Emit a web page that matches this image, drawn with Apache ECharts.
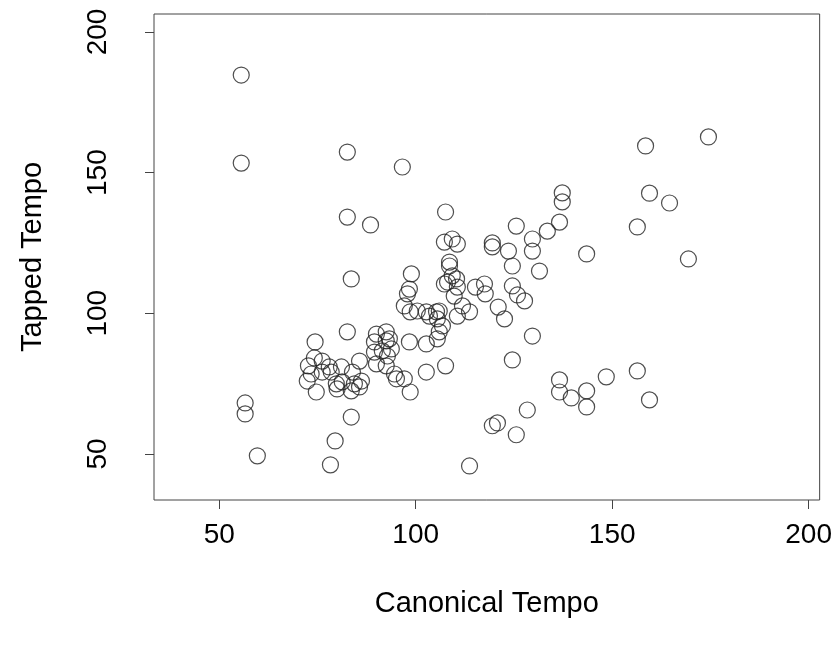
<!DOCTYPE html>
<html>
<head>
<meta charset="utf-8">
<script src="https://cdn.jsdelivr.net/npm/echarts@6/dist/echarts.min.js"></script>
<style>
html,body{margin:0;padding:0;background:#fff;}
#chart{width:835px;height:647px;}
</style>
</head>
<body>
<div id="chart"></div>
<script>
// Canonical tempo (x) and tapped tempo (y)
const canonical = [
  55.6,55.6,56.6,56.6,59.7,
  82.6,96.6,82.6,88.5,83.6,107.6,
  78.3,79.5,83.6,113.7,
  74.4,82.6,72.7,74.2,76.2,78.0,81.1,73.4,76.2,78.5,83.9,72.4,74.7,79.8,80.0,81.3,84.4,83.6,85.7,86.2,85.7,
  90.0,92.5,93.3,89.5,92.5,93.8,91.5,89.5,92.8,90.0,92.5,94.6,95.1,97.1,98.6,98.4,102.7,105.5,102.7,107.6,
  98.9,98.4,97.9,97.1,98.6,100.4,102.7,103.5,105.3,106.0,105.5,106.8,106.0,110.6,113.7,111.9,107.3,108.1,110.4,110.6,109.8,109.3,
  107.3,109.3,110.6,108.6,108.6,
  115.2,117.5,117.7,119.5,119.5,123.6,124.6,125.6,129.7,129.7,131.5,121.0,122.6,124.6,125.9,127.7,129.7,124.6,133.5,136.6,137.3,137.3,
  158.5,174.5,159.5,164.6,156.4,143.5,169.4,136.6,136.6,139.6,143.5,143.5,148.5,156.4,159.5,128.4,119.5,120.8,125.6
];
const tapped = [
  184.7,153.4,68.1,64.2,49.3,
  157.3,152.0,134.2,131.4,112.2,136.0,
  46.1,54.6,63.1,45.7,
  89.8,93.4,81.3,84.1,83.0,80.9,80.9,78.4,79.1,79.1,79.1,75.9,72.0,74.9,73.1,75.6,74.9,72.4,73.8,75.9,83.0,
  92.6,93.4,90.9,89.8,90.2,87.3,86.6,86.2,84.8,82.0,81.3,78.4,76.7,76.7,72.0,89.8,89.1,90.9,79.1,81.3,
  114.0,108.6,106.9,102.6,100.5,100.8,100.5,99.0,100.5,100.8,98.0,95.5,93.4,99.0,100.5,102.6,110.4,111.1,112.2,109.3,106.1,113.3,
  125.3,126.4,124.6,118.2,116.8,
  109.3,110.4,106.9,125.0,123.6,122.1,116.8,131.0,126.4,122.1,115.0,102.2,98.0,109.7,106.5,104.4,91.9,83.4,129.2,132.4,142.8,139.6,
  159.5,162.7,142.7,139.2,130.7,121.1,119.3,76.3,72.0,69.9,72.4,66.7,77.4,79.5,69.2,65.6,60.0,61.0,56.8
];
const xTicks = [50, 100, 150, 200];
const yTicks = [50, 100, 150, 200];
const xTitle = 'Canonical Tempo';
const yTitle = 'Tapped Tempo';

const points = canonical.map((c, i) => [c, tapped[i]]);
const font = '"Liberation Sans", Arial, Helvetica, sans-serif';

const chart = echarts.init(document.getElementById('chart'), null, {renderer: 'canvas'});
chart.setOption({
  animation: false,
  backgroundColor: '#fff',
  grid: {left: 154, right: 15, top: 14, bottom: 147, show: true, borderColor: '#444', borderWidth: 1, backgroundColor: 'transparent'},
  xAxis: {
    type: 'value', min: 33.4, max: 202.8,
    name: xTitle, nameLocation: 'middle', nameGap: 89,
    nameTextStyle: {fontFamily: font, fontSize: 29, color: '#000'},
    axisLine: {show: false},
    axisTick: {show: true, inside: false, length: 9, customValues: xTicks, lineStyle: {color: '#444'}},
    axisLabel: {customValues: xTicks, margin: 21, fontFamily: font, fontSize: 28, color: '#000'},
    splitLine: {show: false}
  },
  yAxis: {
    type: 'value', min: 33.6, max: 206.4,
    name: yTitle, nameLocation: 'middle', nameGap: 107,
    nameTextStyle: {fontFamily: font, fontSize: 29, color: '#000'},
    axisLine: {show: false},
    axisTick: {show: true, inside: false, length: 9, customValues: yTicks, lineStyle: {color: '#444'}},
    axisLabel: {customValues: yTicks, rotate: 90, margin: 42, fontFamily: font, fontSize: 28, color: '#000'},
    splitLine: {show: false}
  },
  series: [{
    type: 'scatter',
    data: points,
    symbol: 'circle',
    symbolSize: 16,
    itemStyle: {color: 'transparent', borderColor: '#222', borderWidth: 1.2},
    emphasis: {disabled: true}
  }]
});
</script>
</body>
</html>
